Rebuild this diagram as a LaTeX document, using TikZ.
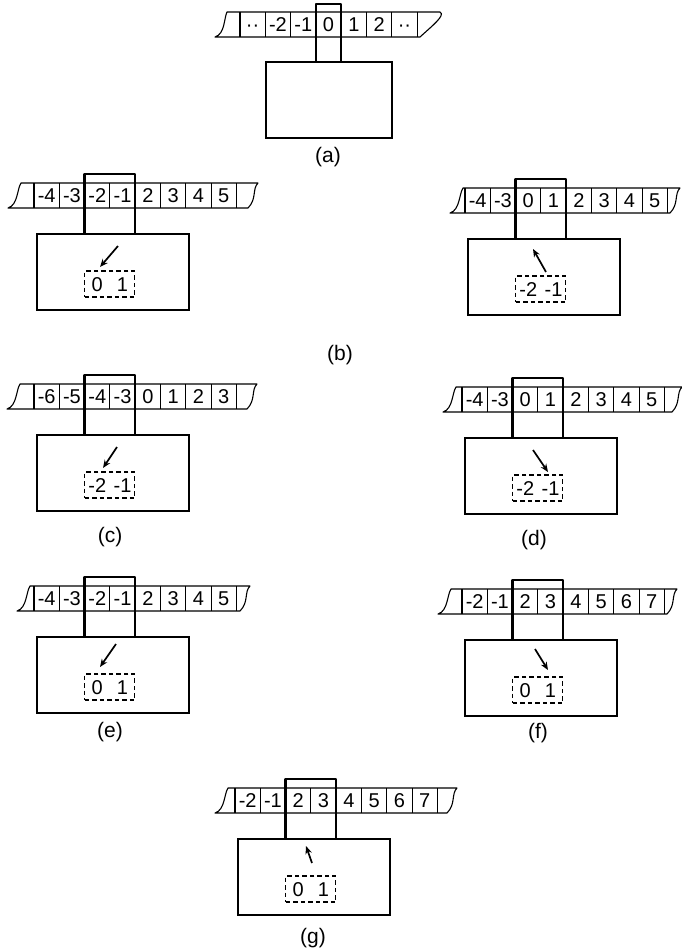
\documentclass[tikz,border=0pt]{standalone}
\usepackage{fontspec}
\newfontfamily\tapefont{Liberation Sans}
\usetikzlibrary{arrows.meta}
\newcommand{\cellw}{25.3}
\tikzset{
	tape/.style   ={line width=1.1pt, line join=round},
	headwin/.style={line width=2.4pt, line join=round},
	unit/.style   ={rectangle, draw, line width=2.4pt, minimum width=152pt, minimum height=76pt, anchor=north west, inner sep=0pt},
	reg/.style    ={rectangle, draw, dash pattern=on 4.5pt off 3pt, line width=1.1pt, minimum width=50pt, minimum height=26pt, inner sep=0pt},
	num/.style    ={font=\tapefont\fontsize{20}{20}\selectfont, inner sep=0pt, text height=14.3pt, text depth=0pt},
	caption/.style={font=\tapefont\fontsize{21}{21}\selectfont, inner sep=0pt},
	move/.style   ={-{Stealth[length=8pt, width=6.5pt]}, line width=1.7pt},
}
% one machine: torn tape, reading window, control box, dashed register, arrow
% #1 name, #2 shift, #3 left tear, #4 right tear, #5 cells, #6 #7 register, #8 #9 arrow
\newcommand{\tapeframe}[9]{%
	\begin{scope}[shift={#2}]
		\draw[tape] (#3+13,0) -- (#4,0) .. controls (#4-6,6) and (#4-1,16) .. (#4-10,25)
			-- (#3,25) .. controls (#3+10,22) and (#3+9,6) .. (#3+13,0) -- cycle;
		\foreach \i in {0,...,8} \draw[tape] (\i*\cellw,0) -- (\i*\cellw,25);
		\foreach \t [count=\i from 0] in {#5}
			\node[num] (#1-c\i) at ({(\i+0.5)*\cellw},12.5) {\t};
		\node[unit] (#1-box) at (2,50) {};
		\draw[headwin] (2*\cellw,50) -- (2*\cellw,-9) -- (4*\cellw,-9) -- (4*\cellw,50);
		\node[reg] (#1-reg) at (3*\cellw,101) {};
		\node[num] (#1-r0) at (2.5*\cellw,101) {#6};
		\node[num] (#1-r1) at (3.5*\cellw,101) {#7};
		\coordinate (#1-from) at #8;
		\coordinate (#1-to) at #9;
		\draw[move] (#1-from) -- (#1-to);
	\end{scope}}

\begin{document}
\begin{tikzpicture}[x=1pt, y=-1pt]
	\useasboundingbox (0,0) rectangle (682,951);
	% (a) starting position
	\begin{scope}[shift={(240,12)}]
		\draw[tape] (-13,0) -- (200,0) .. controls (206,3) and (192,14) .. (180,25)
			-- (-25,25) .. controls (-15,22) and (-16,6) .. (-13,0) -- cycle;
		\foreach \i in {0,...,7} \draw[tape] (\i*\cellw,0) -- (\i*\cellw,25);
		\foreach \t [count=\i from 0] in {··,-2,-1,0,1,2,··}
			\node[num] (a-c\i) at ({(\i+0.5)*\cellw},12.5) {\t};
		\node[unit, minimum width=126pt] (a-box) at (25,49) {};
		\draw[headwin] (3*\cellw,49) -- (3*\cellw,-8) -- (4*\cellw,-8) -- (4*\cellw,49);
	\end{scope}
	\node[caption] (a-lab) at (328,157) {(a)};
	% (b)
	\tapeframe{b1}{(34,183)}{-26}{224}{-4,-3,-2,-1,2,3,4,5}{0}{1}{(84,63)}{(66,84)}
	\tapeframe{b2}{(465,188)}{-15}{215}{-4,-3,0,1,2,3,4,5}{-2}{-1}{(81,84)}{(68,61)}
	\node[caption] (b-lab) at (340,355) {(b)};
	% (c) and (d)
	\tapeframe{c}{(34,384)}{-27}{223}{-6,-5,-4,-3,0,1,2,3}{-2}{-1}{(83,63)}{(69,84)}
	\node[caption] (c-lab) at (110,537) {(c)};
	\tapeframe{d}{(462,387)}{-19}{220}{-4,-3,0,1,2,3,4,5}{-2}{-1}{(71,63)}{(86,85)}
	\node[caption] (d-lab) at (534,540) {(d)};
	% (e) and (f)
	\tapeframe{e}{(34,586)}{-17}{216}{-4,-3,-2,-1,2,3,4,5}{0}{1}{(82,58)}{(66,81)}
	\node[caption] (e-lab) at (110,732) {(e)};
	\tapeframe{f}{(462,589)}{-24}{215}{-2,-1,2,3,4,5,6,7}{0}{1}{(73,60)}{(86,81)}
	\node[caption] (f-lab) at (538,733) {(f)};
	% (g)
	\tapeframe{g}{(235,788)}{-20}{222}{-2,-1,2,3,4,5,6,7}{0}{1}{(77,75)}{(71,58)}
	\node[caption] (g-lab) at (313,938) {(g)};
\end{tikzpicture}
\end{document}
